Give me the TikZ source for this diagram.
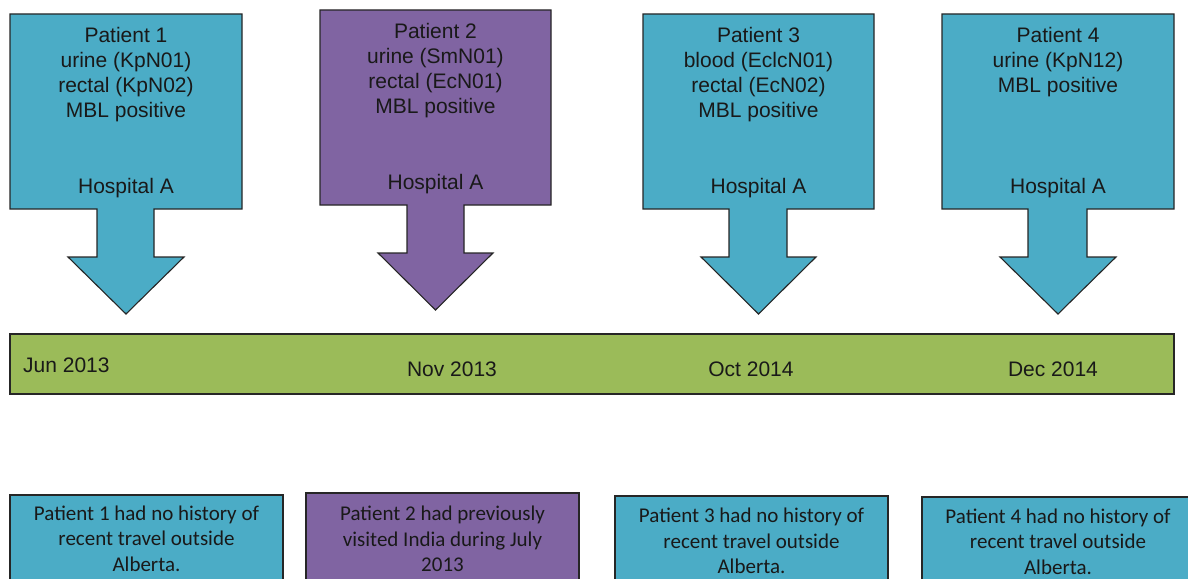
\documentclass[tikz,border=0pt]{standalone}
\usepackage{fontspec}
\setmainfont{Liberation Sans}
\newfontfamily\notefont{Carlito}
\definecolor{aquafill}{HTML}{4BACC6}
\definecolor{violetfill}{HTML}{8064A2}
\definecolor{barfill}{HTML}{9BBB59}
\definecolor{edgecol}{HTML}{262626}
\begin{document}
\begin{tikzpicture}[x=1pt,y=-1pt,
  callout/.style={draw=edgecol, line width=1.1pt, line join=miter},
  toptext/.style={font=\fontsize{21}{25}\selectfont, align=center, inner sep=0pt, text=black!90},
  datetext/.style={font=\fontsize{21}{25}\selectfont, inner sep=0pt, text=black!90},
  notetext/.style={font=\notefont\fontsize{21}{25.5}\selectfont, align=center, inner sep=0pt, text=black!90}]
\useasboundingbox (0,0) rectangle (1188,578);
\clip (0,0) rectangle (1188,578);

% down-arrow callouts, one per patient
\draw[callout, fill=aquafill] (10,14) -- (242,14) -- (242,209) -- (154,209) -- (154,257) -- (184,257)
  -- (126,314) -- (68,257) -- (97,257) -- (97,209) -- (10,209) -- cycle;
\draw[callout, fill=violetfill] (320,10) -- (551,10) -- (551,205) -- (464,205) -- (464,253) -- (493,253)
  -- (435.5,310) -- (378,253) -- (407,253) -- (407,205) -- (320,205) -- cycle;
\draw[callout, fill=aquafill] (643,14) -- (874,14) -- (874,209) -- (787,209) -- (787,257) -- (816,257)
  -- (758.5,314) -- (701,257) -- (729,257) -- (729,209) -- (643,209) -- cycle;
\draw[callout, fill=aquafill] (942,14) -- (1174,14) -- (1174,209) -- (1087,209) -- (1087,257) -- (1116,257)
  -- (1058,314) -- (1000,257) -- (1028,257) -- (1028,209) -- (942,209) -- cycle;

\node[toptext] (p1) at (126,74.5) {Patient 1\\urine (KpN01)\\rectal (KpN02)\\MBL positive};
\node[toptext] (h1) at (126,188) {Hospital A};
\node[toptext] (p2) at (435.5,71) {Patient 2\\urine (SmN01)\\rectal (EcN01)\\MBL positive};
\node[toptext] (h2) at (435.5,184) {Hospital A};
\node[toptext] (p3) at (758.5,74.5) {Patient 3\\blood (EclcN01)\\rectal (EcN02)\\MBL positive};
\node[toptext] (h3) at (758.5,188) {Hospital A};
\node[toptext] (p4) at (1058,62.5) {Patient 4\\urine (KpN12)\\MBL positive};
\node[toptext] (h4) at (1058,188) {Hospital A};

% timeline bar
\draw[callout, fill=barfill] (10,334) rectangle (1174,394);
\node[datetext, anchor=west] (d1) at (23,365) {Jun 2013};
\node[datetext] (d2) at (452,369) {Nov 2013};
\node[datetext] (d3) at (751,369) {Oct 2014};
\node[datetext] (d4) at (1053,369) {Dec 2014};

% travel-history notes
\draw[callout, fill=aquafill] (10,495) rectangle (283,600);
\draw[callout, fill=violetfill] (306,493) rectangle (579,600);
\draw[callout, fill=aquafill] (615,496) rectangle (888,600);
\draw[callout, fill=aquafill] (922,497) rectangle (1195,600);
\node[notetext] (n1) at (146.5,538.5) {Patient 1 had no history of\\recent travel outside\\Alberta.};
\node[notetext] (n2) at (442.5,539) {Patient 2 had previously\\visited India during July\\2013};
\node[notetext] (n3) at (751.5,541) {Patient 3 had no history of\\recent travel outside\\Alberta.};
\node[notetext] (n4) at (1058,541.5) {Patient 4 had no history of\\recent travel outside\\Alberta.};
\end{tikzpicture}
\end{document}
